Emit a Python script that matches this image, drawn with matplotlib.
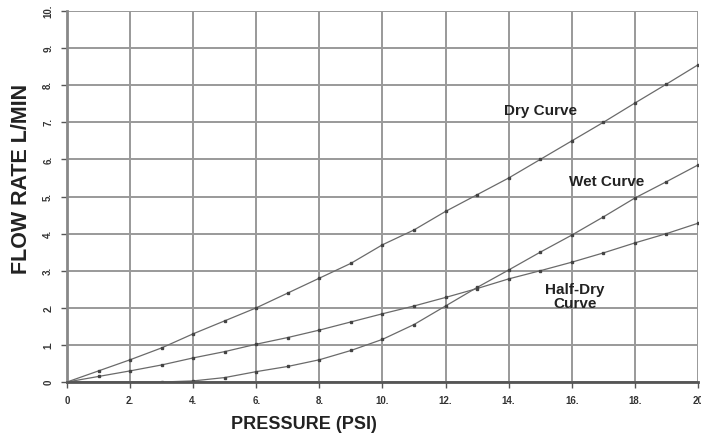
import matplotlib
matplotlib.use("Agg")
import matplotlib.pyplot as plt

plt.rcParams['font.family'] = ['Liberation Sans', 'DejaVu Sans']

# pressure (psi) and flow (L/min)
psi = [0, 1, 2, 3, 4, 5, 6, 7, 8, 9, 10, 11, 12, 13, 14, 15, 16, 17, 18, 19, 20]
dry = [0, 0.3, 0.6, 0.92, 1.3, 1.65, 2.0, 2.4, 2.8, 3.2, 3.7, 4.1, 4.6, 5.05, 5.5,
       6.0, 6.5, 7.0, 7.52, 8.03, 8.55]
half_dry = [0, 0.15, 0.3, 0.46, 0.65, 0.82, 1.02, 1.2, 1.4, 1.62, 1.84, 2.05, 2.28,
            2.52, 2.78, 3.0, 3.23, 3.48, 3.75, 4.0, 4.28]
wet_psi = [0, 3, 4, 5, 6, 7, 8, 9, 10, 11, 12, 13, 14, 15, 16, 17, 18, 19, 20]
wet = [0, 0.0, 0.03, 0.12, 0.28, 0.42, 0.6, 0.85, 1.15, 1.55, 2.05, 2.55, 3.02,
       3.5, 3.96, 4.45, 4.96, 5.4, 5.85]

x_ticks = [0, 2, 4, 6, 8, 10, 12, 14, 16, 18, 20]
x_labels = ['0', '2.', '4.', '6.', '8.', '10.', '12.', '14.', '16.', '18.', '20']
y_ticks = [0, 1, 2, 3, 4, 5, 6, 7, 8, 9, 10]
y_labels = ['0', '1.', '2.', '3.', '4.', '5.', '6.', '7.', '8.', '9.', '10.']

fig = plt.figure(figsize=(7.01, 4.44), dpi=100)
ax = fig.add_axes([0.0956, 0.1396, 0.9, 0.8354])

line_style = dict(color='#6a6a6a', lw=0.9, marker='s', markersize=1.8,
                  markerfacecolor='#444444', markeredgecolor='#444444')
ax.plot(psi, dry, **line_style)
ax.plot(psi, half_dry, **line_style)
ax.plot(wet_psi, wet, **line_style)

ax.set_xlim(0, 20)
ax.set_ylim(0, 10)
ax.set_xticks(x_ticks)
ax.set_xticklabels(x_labels, fontsize=7, fontweight='bold', color='#333333')
ax.set_yticks(y_ticks)
ax.set_yticklabels(y_labels, fontsize=7, fontweight='bold', color='#333333',
                   rotation=90, va='center')
ax.tick_params(axis='both', length=4, width=1, color='#555555', pad=6)

ax.grid(True, color='#999999', lw=1.4)
ax.set_axisbelow(True)
for side in ['top', 'right']:
    ax.spines[side].set_visible(False)
ax.spines['left'].set_color('#888888')
ax.spines['left'].set_linewidth(2)
ax.spines['bottom'].set_color('#555555')
ax.spines['bottom'].set_linewidth(2)

fig.text(0.434, 0.043, 'PRESSURE (PSI)', fontsize=13, fontweight='bold',
         color='#222222', ha='center', va='center')
fig.text(0.031, 0.598, 'FLOW RATE L/MIN', fontsize=15.5, fontweight='bold',
         color='#222222', ha='center', va='center', rotation=90)

ax.text(15.0, 7.3, 'Dry Curve', fontsize=11, fontweight='bold', ha='center',
        va='center', color='#222222')
ax.text(17.1, 5.39, 'Wet Curve', fontsize=11, fontweight='bold', ha='center',
        va='center', color='#222222')
ax.text(16.1, 2.29, 'Half-Dry\nCurve', fontsize=11, fontweight='bold', ha='center',
        va='center', color='#222222', linespacing=0.95)

fig.savefig('out.png', dpi=100)
